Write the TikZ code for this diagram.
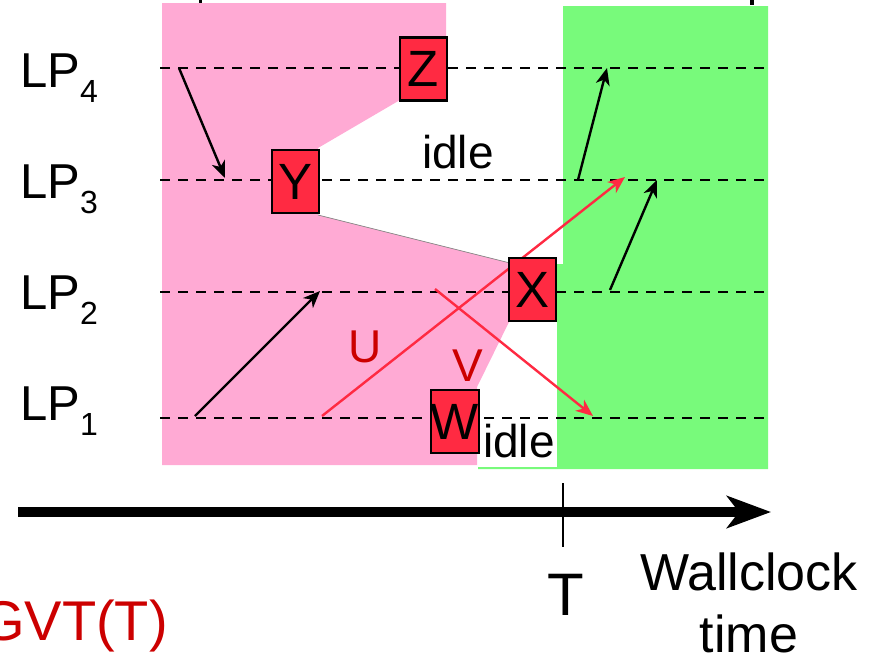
\documentclass[tikz,border=0pt]{standalone}
\usepackage{fontspec}
\setmainfont{Liberation Sans}
\usetikzlibrary{arrows.meta}
\definecolor{pinkbg}{HTML}{FFAAD4}
\definecolor{greenbg}{HTML}{78FA7B}
\definecolor{evred}{HTML}{FF2A42}
\definecolor{lblred}{HTML}{CC0000}
\newcommand\lpsub[1]{{\fontsize{32}{32}\selectfont\raisebox{-15pt}{#1}}}
\begin{document}
\begin{tikzpicture}[x=1pt,y=-1pt,
  evbox/.style={draw=black, line width=2.2pt, fill=evred, minimum width=47pt, minimum height=63pt, inner sep=0pt, font=\fontsize{51}{51}\selectfont},
  lpline/.style={dash pattern=on 10pt off 8pt, line width=2.4pt},
  msg/.style={line width=2.4pt, -{Stealth[length=17pt,width=14pt,inset=5pt]}},
  redmsg/.style={msg, draw=evred, fill=evred},
  lplabel/.style={anchor=base west, inner sep=0pt, font=\fontsize{49}{49}\selectfont},
  idletxt/.style={anchor=base west, inner sep=0pt, font=\fontsize{46}{46}\selectfont},
  msglabel/.style={text=lblred, inner sep=0pt, font=\fontsize{46}{46}\selectfont},
]
\useasboundingbox (0,0) rectangle (871,662);
% background regions
\fill[pinkbg] (162,3) -- (446,3) -- (446,100) -- (400,100) -- (318,148) -- (318,215) -- (510,263) -- (510,320) -- (477,387) -- (477,465) -- (162,465) -- cycle;
\draw[gray, line width=0.7pt] (318,215) -- (510,263);
\fill[greenbg] (563,6) -- (768,6) -- (768,469) -- (478,469) -- (478,467) -- (557,467) -- (557,264) -- (563,264) -- cycle;
% fragments at top edge
\fill (199,0) rectangle (202,3);
\fill (750,0) rectangle (754,5);
% LP time lines
\coordinate (l4a) at (160,68);  \coordinate (l4b) at (767,68);
\coordinate (l3a) at (160,180); \coordinate (l3b) at (767,180);
\coordinate (l2a) at (160,292); \coordinate (l2b) at (767,292);
\coordinate (l1a) at (160,418); \coordinate (l1b) at (767,418);
\draw[lpline] (l4a) -- (l4b);
\draw[lpline] (l3a) -- (l3b);
\draw[lpline] (l2a) -- (l2b);
\draw[lpline] (l1a) -- (l1b);
% LP labels
\node[lplabel] (lp4) at (20,87) {LP\lpsub{4}};
\node[lplabel] (lp3) at (20,198) {LP\lpsub{3}};
\node[lplabel] (lp2) at (20,309) {LP\lpsub{2}};
\node[lplabel] (lp1) at (20,420) {LP\lpsub{1}};
% idle labels
\node[idletxt] (idle1) at (422,168) {idle};
\node[idletxt] (idle2) at (483,457) {idle};
% black messages
\coordinate (m1s) at (179,68);  \coordinate (m1e) at (225,178);
\coordinate (m2s) at (195,416); \coordinate (m2e) at (320,291);
\coordinate (m3s) at (578,180); \coordinate (m3e) at (607,68);
\coordinate (m4s) at (610,290); \coordinate (m4e) at (657,180);
\draw[msg] (m1s) -- (m1e);
\draw[msg] (m2s) -- (m2e);
\draw[msg] (m3s) -- (m3e);
\draw[msg] (m4s) -- (m4e);
% red messages
\coordinate (us) at (322,416); \coordinate (ue) at (625,177);
\coordinate (vs) at (435,289); \coordinate (ve) at (593,416);
\draw[redmsg] (us) -- (ue);
\draw[redmsg] (vs) -- (ve);
\node[msglabel] (U) at (365,347) {U};
\node[msglabel] (V) at (468,366) {V};
% events
\node[evbox] (Z) at (423.5,69) {Z};
\node[evbox] (Y) at (295.5,181.5) {Y};
\node[evbox] (X) at (532.5,289.5) {X};
\node[evbox] (W) at (455,421.5) {W};
% wallclock axis
\coordinate (ax0) at (18,512); \coordinate (ax1) at (771,512);
\draw[line width=10pt, -{Stealth[length=44pt,width=32pt,inset=12pt]}] (ax0) -- (ax1);
\coordinate (tk0) at (563,483); \coordinate (tk1) at (563,547);
\draw[line width=2pt] (tk0) -- (tk1);
\node[anchor=base, inner sep=0pt, font=\fontsize{60}{60}\selectfont] (T) at (566,615) {T};
\node[anchor=base, inner sep=0pt, font=\fontsize{52}{52}\selectfont] (wc) at (749,590) {Wallclock};
\node[anchor=base, inner sep=0pt, font=\fontsize{52}{52}\selectfont] (tm) at (749,652) {time};
\node[anchor=base east, inner sep=0pt, text=lblred, font=\fontsize{56}{56}\selectfont] (gvt) at (168,640) {GVT(T)};
\end{tikzpicture}
\end{document}
